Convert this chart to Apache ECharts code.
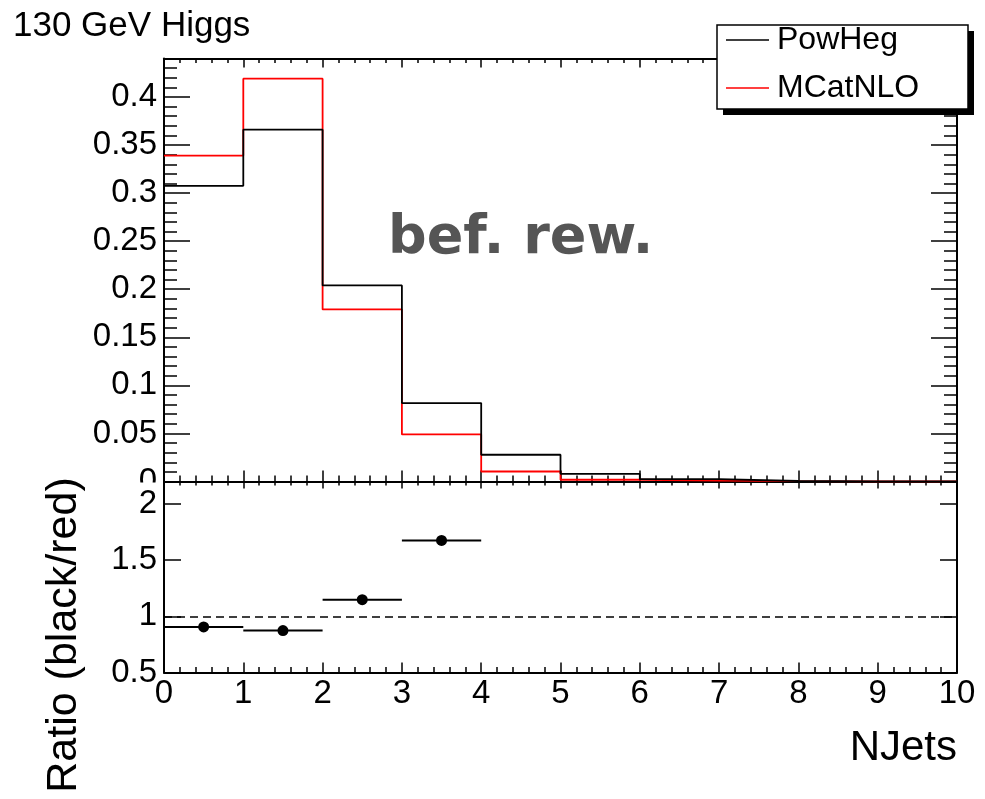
<!DOCTYPE html>
<html><head><meta charset="utf-8">
<script src="https://cdn.jsdelivr.net/npm/echarts@6/dist/echarts.min.js"></script>
<style>html,body{margin:0;padding:0;background:#fff}#c{width:985px;height:799px}</style>
</head><body><div id="c"></div>
<script>
// ---- data ----
const binLowEdges = [0, 1, 2, 3, 4, 5, 6, 7, 8, 9];
const binWidth = 1;
const powheg  = [0.3076, 0.366, 0.204, 0.0816, 0.0278, 0.0080, 0.0024, 0.0005, 0, 0];
const mcatnlo = [0.339, 0.419, 0.179, 0.049, 0.0104, 0.0018, 0.0010, 0.0003, 0, 0];
const ratioCenters = [0.5, 1.5, 2.5, 3.5];
const ratioValues  = [0.906, 0.873, 1.148, 1.675];
const refLine = 1;
const seriesNames = ['PowHeg', 'MCatNLO'];
const titleText = '130 GeV Higgs';
const ratioTitle = 'Ratio (black/red)';
const xTitle = 'NJets';
const noteText = 'bef. rew.';

// ---- build ----
function steps(vals) {
  const pts = binLowEdges.map((x, i) => [x, vals[i]]);
  const last = binLowEdges.length - 1;
  pts.push([binLowEdges[last] + binWidth, vals[last]]);
  return pts;
}
const FONT = 'Liberation Sans';
const LABEL_SIZE = 33;
const axisLine = { show: true, onZero: false, lineStyle: { color: '#000', width: 2 } };
function xAx(grid, pos, major, minor, labels) {
  return {
    type: 'value', gridIndex: grid, position: pos, min: 0, max: 10, interval: 1,
    axisLine: axisLine,
    axisTick: { show: true, inside: true, length: major, lineStyle: { color: '#000', width: 1.5 } },
    minorTick: { show: true, splitNumber: 5, length: minor, lineStyle: { color: '#000', width: 1.5 } },
    splitLine: { show: false }, minorSplitLine: { show: false },
    axisLabel: labels ? { show: true, margin: 5, color: '#000', fontFamily: FONT, fontSize: LABEL_SIZE } : { show: false }
  };
}
function yAx(grid, pos, min, max, interval, major, minor, minorOn, labels, z) {
  return {
    type: 'value', gridIndex: grid, position: pos, min: min, max: max, interval: interval, z: z || 0,
    axisLine: axisLine,
    axisTick: { show: true, inside: true, length: major, lineStyle: { color: '#000', width: 1.5 } },
    minorTick: { show: minorOn, splitNumber: 5, length: minor, lineStyle: { color: '#000', width: 1.5 } },
    splitLine: { show: false }, minorSplitLine: { show: false },
    axisLabel: labels ? { show: true, margin: 7, showMaxLabel: false, color: '#000', fontFamily: FONT, fontSize: LABEL_SIZE } : { show: false }
  };
}

const chart = echarts.init(document.getElementById('c'), null, { renderer: 'canvas' });
chart.setOption({
  animation: false,
  backgroundColor: '#fff',
  grid: [
    { left: 164, right: 28, top: 58.5, height: 423 },
    { left: 164, right: 28, top: 481.5, height: 191 }
  ],
  xAxis: [
    xAx(0, 'bottom', 11, 6, false),
    xAx(0, 'top', 9, 4.5, false),
    xAx(1, 'bottom', 10, 5.5, true),
    xAx(1, 'top', 7, 4, false)
  ],
  yAxis: [
    yAx(0, 'left', 0, 0.44, 0.05, 26, 13, true, true),
    yAx(0, 'right', 0, 0.44, 0.05, 26, 13, true, false),
    yAx(1, 'left', 0.5, 2.2, 0.5, 17, 8, false, true, 10),
    yAx(1, 'right', 0.5, 2.2, 0.5, 17, 8, false, false, 10)
  ],
  legend: {
    data: seriesNames, orient: 'vertical', left: 726, top: 24, z: 10,
    icon: 'rect', itemWidth: 43, itemHeight: 1.5, itemGap: 16, padding: 0,
    textStyle: { color: '#000', fontFamily: FONT, fontSize: 32, lineHeight: 32, padding: [0, 0, 0, 3] }
  },
  series: [
    { name: seriesNames[0], type: 'line', xAxisIndex: 0, yAxisIndex: 0, step: 'end', symbol: 'none',
      data: steps(powheg), lineStyle: { color: '#000', width: 1.8 }, itemStyle: { color: '#000' }, z: 3 },
    { name: seriesNames[1], type: 'line', xAxisIndex: 0, yAxisIndex: 0, step: 'end', symbol: 'none',
      data: steps(mcatnlo), lineStyle: { color: '#ff0000', width: 1.8 }, itemStyle: { color: '#ff0000' }, z: 2 },
    { name: 'ratio', type: 'custom', xAxisIndex: 2, yAxisIndex: 2,
      data: ratioCenters.map((x, i) => [x, ratioValues[i]]),
      renderItem: function (params, api) {
        const x = api.value(0), y = api.value(1);
        const p0 = api.coord([x - binWidth / 2, y]);
        const p1 = api.coord([x + binWidth / 2, y]);
        const c = api.coord([x, y]);
        return { type: 'group', children: [
          { type: 'line', shape: { x1: p0[0], y1: p0[1], x2: p1[0], y2: p1[1] }, style: { stroke: '#000', lineWidth: 2 } },
          { type: 'circle', shape: { cx: c[0], cy: c[1], r: 5.5 }, style: { fill: '#000' } }
        ] };
      },
      markLine: { silent: true, symbol: 'none', label: { show: false },
        lineStyle: { color: '#000', type: [8, 5], width: 1.5 },
        data: [{ yAxis: refLine }] },
      z: 4 }
  ],
  graphic: [
    { type: 'rect', shape: { x: 100, y: 482.5, width: 62, height: 10 }, style: { fill: '#fff' }, z: 5 },
    { type: 'rect', shape: { x: 723, y: 31, width: 251, height: 84 }, style: { fill: '#000' }, z: 6 },
    { type: 'rect', shape: { x: 717, y: 25, width: 251, height: 84 }, style: { fill: '#fff', stroke: '#000', lineWidth: 1.5 }, z: 7 },
    { type: 'text', x: 13, y: 26, z: 20, style: { text: titleText, font: '35px "Liberation Sans"', fill: '#000', textAlign: 'left', textVerticalAlign: 'middle' } },
    { type: 'text', x: 388, y: 239, z: 20, style: { text: noteText, font: 'bold 54px "DejaVu Sans"', fill: '#555', textAlign: 'left', textVerticalAlign: 'middle' } },
    { type: 'text', x: 64, y: 635, rotation: Math.PI / 2, z: 20, style: { text: ratioTitle, font: '43px "Liberation Sans"', fill: '#000', textAlign: 'center', textVerticalAlign: 'middle' } },
    { type: 'text', x: 957, y: 748, z: 20, style: { text: xTitle, font: '42px "Liberation Sans"', fill: '#000', textAlign: 'right', textVerticalAlign: 'middle' } }
  ]
});
</script></body></html>
